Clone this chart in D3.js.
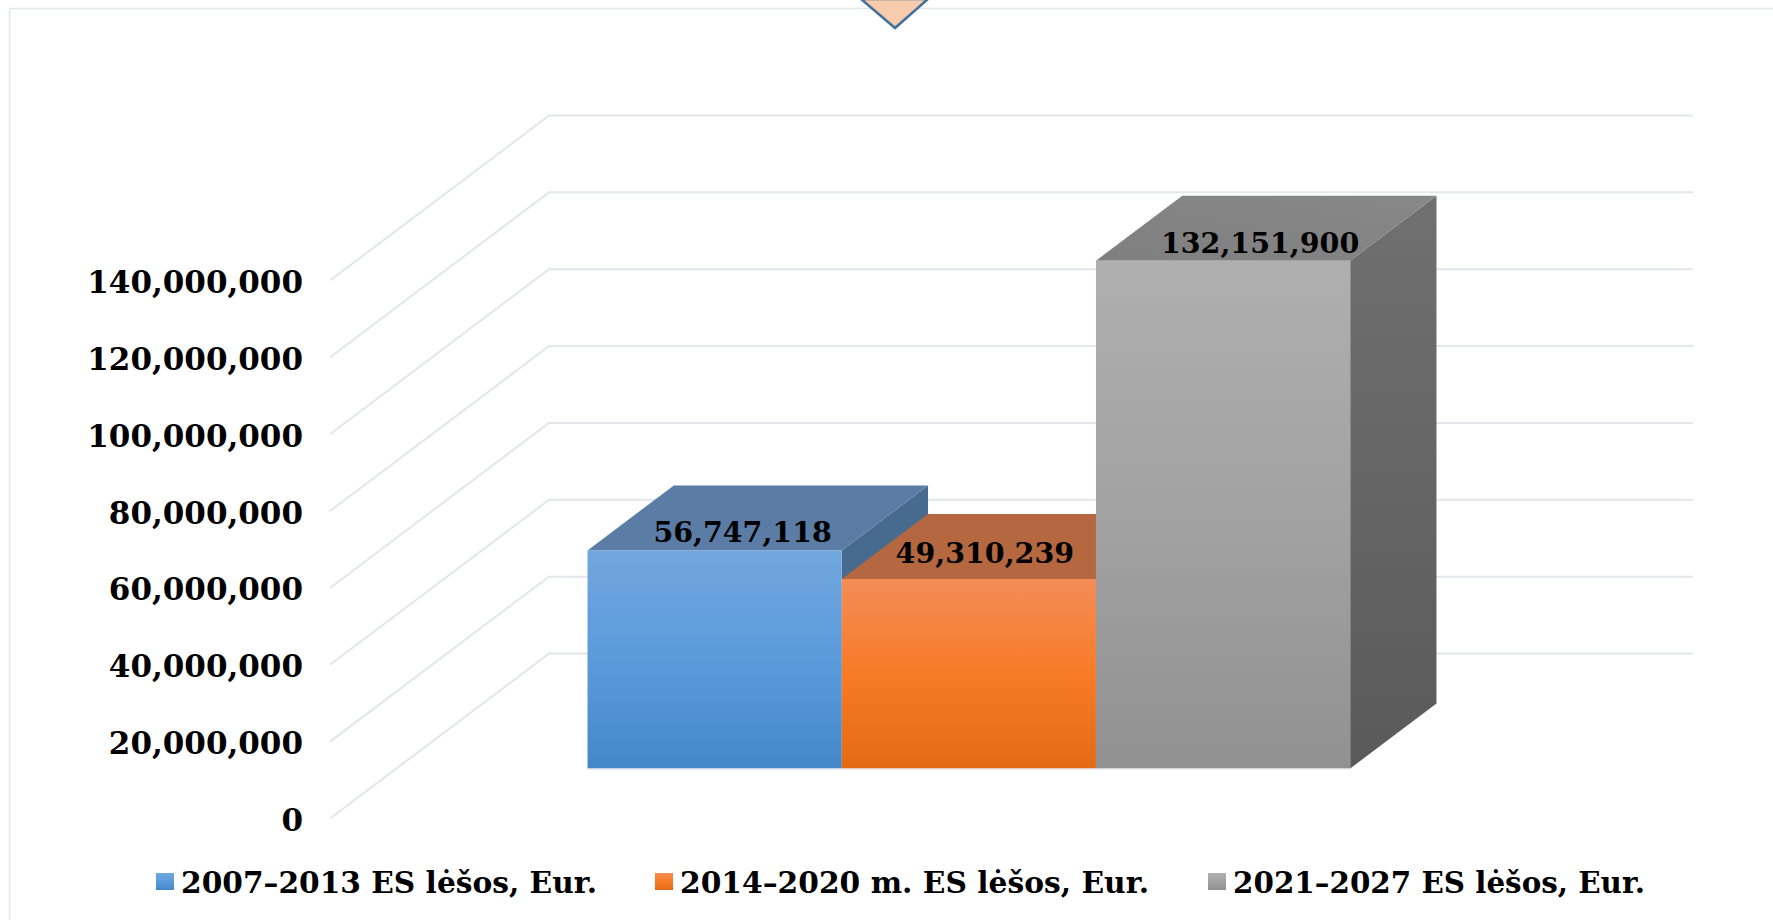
<!DOCTYPE html>
<html>
<head>
<meta charset="utf-8">
<script src="https://cdn.jsdelivr.net/npm/d3@7"></script>
<style>
    html, body { margin: 0; padding: 0; background: #fff; overflow: hidden; }
    text { font-family: "DejaVu Serif", serif; font-weight: bold; fill: #000; }
</style>
</head>
<body>
<div id="chart"></div>
<script>
const categories = ["ES lėšos"];
const seriesNames = ["2007–2013 ES lėšos, Eur.", "2014–2020 m. ES lėšos, Eur.", "2021–2027 ES lėšos, Eur."];
const seriesValues = [56747118, 49310239, 132151900];
const tickValues = [0, 20000000, 40000000, 60000000, 80000000, 100000000, 120000000, 140000000];

const width = 1773, height = 920;

const svg = d3.select("#chart").append("svg")
    .attr("width", width)
    .attr("height", height);

// colours per series: front top/mid/bottom, roof, side
const palette = [
    {front: ["#72a6de", "#5a9bdc", "#4488ca"], roof: ["#5a7ca5", "#5a7ca5"], side: ["#476a8f", "#476a8f"]},
    {front: ["#f38c57", "#f87b26", "#e36a14"], roof: ["#b5683f", "#b5683f"], side: ["#a55c36", "#a55c36"]},
    {front: ["#afafaf", "#a2a2a2", "#919191"], roof: ["#7f7f7f", "#888888"], side: ["#707070", "#5a5a5a"]}
];

// gradients
let defs = svg.append("defs");
palette.forEach((p, i) => {
    let g = defs.append("linearGradient").attr("id", `front${i}`)
        .attr("x1", 0).attr("y1", 0).attr("x2", 0).attr("y2", 1);
    g.selectAll("stop").data(p.front).join("stop")
        .attr("offset", (d, k) => k / 2)
        .attr("stop-color", d => d);
    let r = defs.append("linearGradient").attr("id", `roof${i}`)
        .attr("x1", 0).attr("y1", 1).attr("x2", 1).attr("y2", 0);
    r.selectAll("stop").data(p.roof).join("stop")
        .attr("offset", (d, k) => k)
        .attr("stop-color", d => d);
    let s = defs.append("linearGradient").attr("id", `side${i}`)
        .attr("x1", 0).attr("y1", 0).attr("x2", 0).attr("y2", 1);
    s.selectAll("stop").data(p.side).join("stop")
        .attr("offset", (d, k) => k)
        .attr("stop-color", d => d);
});

// page frame and the arrow shape cut off at the top
svg.append("path")
    .attr("d", `M9.5,${height} V8.5 H${width}`)
    .attr("fill", "none")
    .attr("stroke", "#e3e6ed")
    .attr("stroke-width", 1.5);

svg.append("path")
    .attr("d", "M861,-1 L895,28 L928,-1 Z")
    .attr("fill", "#f8cbad")
    .attr("stroke", "#41719c")
    .attr("stroke-width", 2.5);

// scales for the front plane of the 3d box
const yScale = d3.scaleLinear().domain([0, 140000000]).range([818.5, 280.5]);
const x0 = d3.scaleBand().domain(categories).range([330.5, 1474.5]).paddingOuter(0.25).paddingInner(0);
const x1 = d3.scaleBand().domain(seriesNames).range([x0(categories[0]), x0(categories[0]) + x0.bandwidth()]);

// depth goes up and to the right
const depthX = 219, depthY = -165;
const barDepthStart = 0.303, barDepthEnd = 0.697;
const pt = (x, v, depth) => [x + depthX * depth, yScale(v) + depthY * depth];
const poly = pts => "M" + pts.map(p => p.join(",")).join("L") + "Z";

// gridlines: floor/side wall part then back wall
svg.append("g").selectAll("path").data(tickValues).join("path")
    .attr("d", d => {
        let a = pt(330, d, 0), b = pt(330, d, 1), c = pt(1474, d, 1);
        return `M${a}L${b}L${c}`;
    })
    .attr("fill", "none")
    .attr("stroke", "#e3e6ed")
    .attr("stroke-width", 2);

// y axis
const yAxis = d3.axisLeft(yScale)
    .tickValues(tickValues)
    .tickFormat(d3.format(","))
    .tickSize(0)
    .tickPadding(27);

const axisG = svg.append("g")
    .attr("transform", "translate(330,0)")
    .call(yAxis);
axisG.select(".domain").remove();
axisG.selectAll("text")
    .attr("dy", 12)
    .style("font-size", "31px")
    .style("font-family", null)
    .attr("fill", "#000");
axisG.attr("font-family", null).attr("font-size", null);

// bars, left to right so the next one covers the side of the previous one
const bars = svg.append("g").selectAll("g")
    .data(seriesValues)
    .join("g");

bars.append("path").attr("class", "bar-side")
    .attr("d", (d, i) => {
        let r = x1(seriesNames[i]) + x1.bandwidth();
        return poly([pt(r, d, barDepthStart), pt(r, d, barDepthEnd), pt(r, 0, barDepthEnd), pt(r, 0, barDepthStart)]);
    })
    .attr("fill", (d, i) => `url(#side${i})`);

bars.append("path").attr("class", "bar-roof")
    .attr("d", (d, i) => {
        let l = x1(seriesNames[i]), r = l + x1.bandwidth();
        return poly([pt(l, d, barDepthStart), pt(l, d, barDepthEnd), pt(r, d, barDepthEnd), pt(r, d, barDepthStart)]);
    })
    .attr("fill", (d, i) => `url(#roof${i})`);

bars.append("path").attr("class", "bar-front")
    .attr("d", (d, i) => {
        let l = x1(seriesNames[i]), r = l + x1.bandwidth();
        return poly([pt(l, d, barDepthStart), pt(r, d, barDepthStart), pt(r, 0, barDepthStart), pt(l, 0, barDepthStart)]);
    })
    .attr("fill", (d, i) => `url(#front${i})`);

// thin light edge under the bars
svg.append("path")
    .attr("d", () => {
        let a = pt(x1(seriesNames[0]), 0, barDepthStart);
        let b = pt(x1(seriesNames[2]) + x1.bandwidth(), 0, barDepthStart);
        return `M${a[0]},${a[1] + 0.5}L${b[0]},${b[1] + 0.5}`;
    })
    .attr("stroke", "#dde1e8")
    .attr("stroke-width", 1);

// data labels, nudged by hand like the original
const labelNudge = [[28, -8], [16, -16], [37, -8]];
svg.append("g").selectAll("text")
    .data(seriesValues)
    .join("text")
    .attr("x", (d, i) => pt(x1(seriesNames[i]) + x1.bandwidth() / 2, d, barDepthStart)[0] + labelNudge[i][0])
    .attr("y", (d, i) => pt(0, d, barDepthStart)[1] + labelNudge[i][1])
    .attr("text-anchor", "middle")
    .style("font-size", "28.5px")
    .text(d => d3.format(",")(d));

// legend
const legendX = [156, 655, 1208];
const legendLength = [416, 469, 412];
const legend = svg.append("g").selectAll("g")
    .data(seriesNames)
    .join("g")
    .attr("transform", (d, i) => `translate(${legendX[i]},873)`);

legend.append("rect")
    .attr("width", 18)
    .attr("height", 17)
    .attr("fill", (d, i) => `url(#front${i})`);

legend.append("text")
    .attr("x", 25)
    .attr("y", 20)
    .attr("textLength", (d, i) => legendLength[i])
    .attr("lengthAdjust", "spacingAndGlyphs")
    .style("font-size", "29px")
    .text(d => d);
</script>
</body>
</html>
